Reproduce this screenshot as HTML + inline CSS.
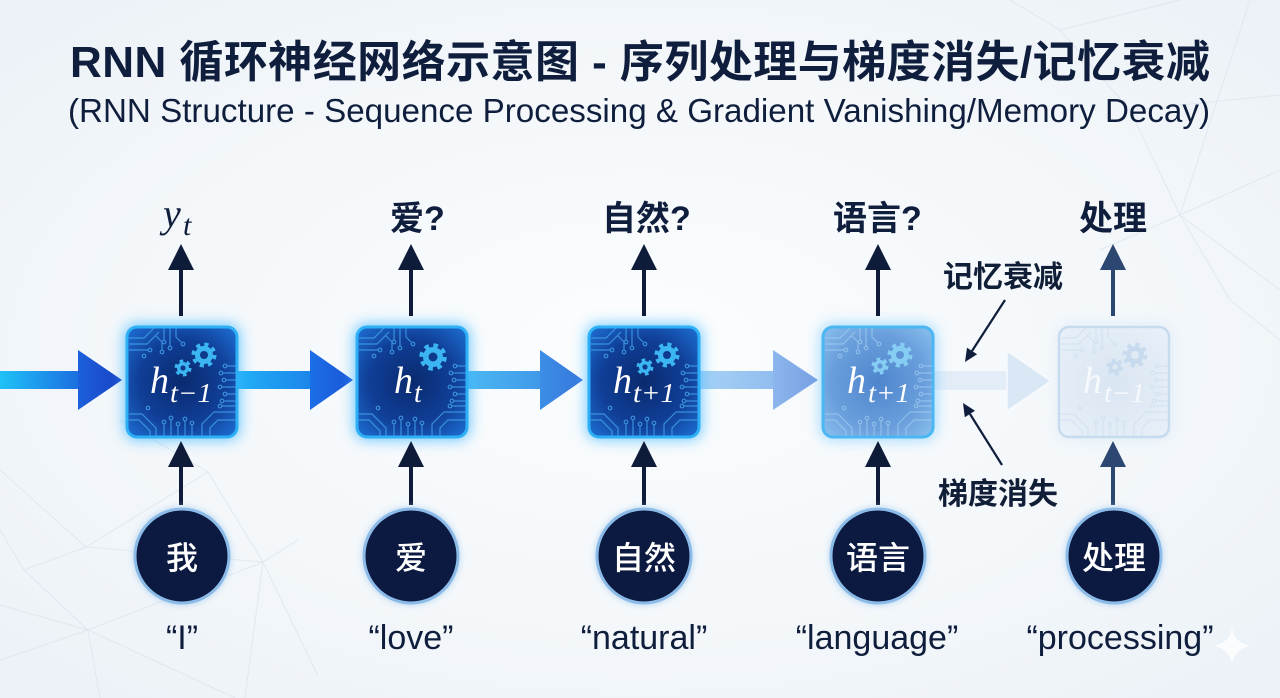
<!DOCTYPE html>
<html><head><meta charset="utf-8"><style>
html,body{margin:0;padding:0;width:1280px;height:698px;overflow:hidden;background:#f2f6fa;}
svg{display:block;}
</style></head><body>
<svg width="1280" height="698" viewBox="0 0 1280 698" xmlns="http://www.w3.org/2000/svg">
<defs>
  <radialGradient id="bgG" cx="0.5" cy="0.5" r="0.7">
    <stop offset="0" stop-color="#fbfdfe"/><stop offset="0.6" stop-color="#f3f7fa"/><stop offset="1" stop-color="#ebf1f7"/>
  </radialGradient>
  <radialGradient id="g1" cx="0.5" cy="0.5" r="0.72">
    <stop offset="0" stop-color="#0a2a6e"/><stop offset="0.55" stop-color="#103f98"/><stop offset="1" stop-color="#1f74da"/>
  </radialGradient>
  <radialGradient id="g4" cx="0.5" cy="0.5" r="0.72">
    <stop offset="0" stop-color="#4f85cd"/><stop offset="0.6" stop-color="#6a9fdc"/><stop offset="1" stop-color="#8ec3f0"/>
  </radialGradient>
  <radialGradient id="g5" cx="0.5" cy="0.5" r="0.72">
    <stop offset="0" stop-color="#d9e5f2"/><stop offset="1" stop-color="#e9f1f9"/>
  </radialGradient>
  <filter id="blur" x="-50%" y="-50%" width="200%" height="200%"><feGaussianBlur stdDeviation="7"/></filter>
  <filter id="blur2" x="-50%" y="-50%" width="200%" height="200%"><feGaussianBlur stdDeviation="3"/></filter>

  <linearGradient id="a0s" gradientUnits="userSpaceOnUse" x1="0" y1="0" x2="80" y2="0"><stop offset="0" stop-color="#1fc2f8"/><stop offset="1" stop-color="#1b6ddf"/></linearGradient>
  <linearGradient id="a0h" gradientUnits="userSpaceOnUse" x1="78" y1="0" x2="122" y2="0"><stop offset="0" stop-color="#1d60dc"/><stop offset="1" stop-color="#1943c6"/></linearGradient>
  <linearGradient id="a1s" gradientUnits="userSpaceOnUse" x1="238" y1="0" x2="312" y2="0"><stop offset="0" stop-color="#21b0f6"/><stop offset="1" stop-color="#1d84ea"/></linearGradient>
  <linearGradient id="a1h" gradientUnits="userSpaceOnUse" x1="310" y1="0" x2="353" y2="0"><stop offset="0" stop-color="#1c6fe6"/><stop offset="1" stop-color="#1a55d8"/></linearGradient>
  <linearGradient id="a2s" gradientUnits="userSpaceOnUse" x1="468" y1="0" x2="542" y2="0"><stop offset="0" stop-color="#4cb8f3"/><stop offset="1" stop-color="#3f98e8"/></linearGradient>
  <linearGradient id="a2h" gradientUnits="userSpaceOnUse" x1="540" y1="0" x2="583" y2="0"><stop offset="0" stop-color="#3d8ee6"/><stop offset="1" stop-color="#3676dc"/></linearGradient>
  <linearGradient id="a3s" gradientUnits="userSpaceOnUse" x1="701" y1="0" x2="775" y2="0"><stop offset="0" stop-color="#a6d2f5"/><stop offset="1" stop-color="#90bdef"/></linearGradient>
  <linearGradient id="a3h" gradientUnits="userSpaceOnUse" x1="773" y1="0" x2="818" y2="0"><stop offset="0" stop-color="#8cb6ec"/><stop offset="1" stop-color="#789fe2"/></linearGradient>

  <g id="circ" fill="none" stroke="currentColor" stroke-width="1.2">
    <path d="M3 12 H18 L28 2 M3 18 H21 L33 6 M3 24 H22 M38 2 V14 M44 2 V20 M50 2 V11 L55 16 M30 10 L36 16 V24"/>
    <circle cx="24" cy="24" r="1.8"/><circle cx="38" cy="16" r="1.8"/><circle cx="44" cy="22" r="1.8"/><circle cx="57" cy="18" r="1.8"/><circle cx="36" cy="26" r="1.8"/><circle cx="18" cy="30" r="1.8"/>
    <path d="M110 40 H101 M110 47 H97 M110 54 H100 M110 61 H96 M110 68 H101 M110 75 H98"/>
    <circle cx="99" cy="40" r="1.8"/><circle cx="95" cy="47" r="1.8"/><circle cx="98" cy="54" r="1.8"/><circle cx="94" cy="61" r="1.8"/><circle cx="99" cy="68" r="1.8"/><circle cx="96" cy="75" r="1.8"/>
    <path d="M38 110 V98 M45 110 V94 M52 110 V100 M59 110 V95 M66 110 V99 M3 88 H16 L30 102 V110 M3 94 H13 L24 105 V110 M110 86 H88 L76 98 V110 M110 94 H92 L84 102 V110 M110 80 H96"/>
    <circle cx="38" cy="96" r="1.8"/><circle cx="45" cy="92" r="1.8"/><circle cx="52" cy="98" r="1.8"/><circle cx="59" cy="93" r="1.8"/><circle cx="66" cy="97" r="1.8"/><circle cx="22" cy="82" r="1.8"/><circle cx="94" cy="80" r="1.8"/>
  </g>
</defs>

<!-- background -->
<rect width="1280" height="698" fill="url(#bgG)"/>
<g stroke="#dbe3ec" stroke-width="1" fill="none" opacity="0.75">
  <path d="M86 547 L208 472 M86 547 L24 570 M86 547 L263 562 M24 570 L88 630 M88 630 L263 562 M88 630 L0 605 M88 630 L100 698 M88 630 L235 698 M263 562 L318 676 M263 562 L245 698 M24 570 L0 530 M86 547 L0 470 M208 472 L120 420 M263 562 L298 540 M208 472 L263 562 M0 660 L88 630"/>
  <path d="M1100 250 L1180 215 L1280 170 M1180 215 L1280 290 M1180 215 L1130 110 M1130 110 L1280 95 M1130 110 L1060 30 M1180 215 L1250 0 M1060 30 L1180 0 M1230 300 L1280 340 M1180 215 L1230 300 M1010 0 L1060 30"/>
</g>

<!-- title -->
<text x="70" y="77" font-family="'Liberation Sans','Noto Sans CJK SC',sans-serif" font-size="44" font-weight="700" fill="#0f1e3c" textLength="1140" lengthAdjust="spacing">RNN 循环神经网络示意图 - 序列处理与梯度消失/记忆衰减</text>
<text x="68" y="122" font-family="'Liberation Sans','Noto Sans CJK SC',sans-serif" font-size="33" fill="#0f1e3c" textLength="1142" lengthAdjust="spacingAndGlyphs">(RNN Structure - Sequence Processing &amp; Gradient Vanishing/Memory Decay)</text>

<!-- horizontal arrows -->
<rect x="0" y="371" width="80" height="18" fill="url(#a0s)"/>
<polygon points="78,350 122,380 78,410" fill="url(#a0h)"/>
<rect x="236" y="371" width="76" height="18" fill="url(#a1s)"/>
<polygon points="310,350 353,380 310,410" fill="url(#a1h)"/>
<rect x="466" y="371" width="76" height="18" fill="url(#a2s)"/>
<polygon points="540,350 583,380 540,410" fill="url(#a2h)"/>
<rect x="699" y="371" width="76" height="18" fill="url(#a3s)"/>
<polygon points="773,350 818,380 773,410" fill="url(#a3h)"/>
<rect x="933" y="371" width="76" height="19" fill="#e3edf7"/>
<polygon points="1007,351 1051,381 1007,411" fill="#dae7f4" stroke="#f7fafd" stroke-width="1.5"/>

<!-- box glows -->
<rect x="124" y="324" width="116" height="116" rx="12" fill="#3cb6ff" opacity="0.75" filter="url(#blur)"/>
<rect x="354" y="324" width="116" height="116" rx="12" fill="#3cb6ff" opacity="0.75" filter="url(#blur)"/>
<rect x="586" y="324" width="116" height="116" rx="12" fill="#3cb6ff" opacity="0.7" filter="url(#blur)"/>
<rect x="820" y="324" width="116" height="116" rx="12" fill="#5cc0ff" opacity="0.55" filter="url(#blur)"/>
<rect x="1056" y="324" width="116" height="116" rx="12" fill="#cfe3f5" opacity="0.5" filter="url(#blur)"/>

<!-- box 1 -->
<rect x="127" y="327" width="110" height="110" rx="10" fill="url(#g1)" stroke="#2db0f5" stroke-width="3"/>
<use href="#circ" x="126" y="326" style="color:#43a2ea" opacity="0.8"/>
<g fill="#3cb6f2">
  <circle cx="204" cy="355" r="9"/><circle cx="204" cy="355" r="10.5" fill="none" stroke="#3cb6f2" stroke-width="4" stroke-dasharray="4.12 4.12"/>
  <circle cx="183" cy="368" r="6"/><circle cx="183" cy="368" r="7" fill="none" stroke="#3cb6f2" stroke-width="3" stroke-dasharray="3.67 3.67"/>
</g>
<circle cx="204" cy="355" r="4" fill="#0f3a8c"/><circle cx="183" cy="368" r="2.6" fill="#0f3a8c"/>
<text font-family="'Liberation Serif',serif" font-style="italic" fill="#ffffff"><tspan x="150" y="393" font-size="38">h</tspan><tspan x="170" y="402" font-size="27" textLength="42" lengthAdjust="spacingAndGlyphs">t−1</tspan></text>

<!-- box 2 -->
<rect x="357" y="327" width="110" height="110" rx="10" fill="url(#g1)" stroke="#2db0f5" stroke-width="3"/>
<use href="#circ" x="356" y="326" style="color:#43a2ea" opacity="0.8"/>
<circle cx="433" cy="357" r="10" fill="#3cb6f2"/><circle cx="433" cy="357" r="11.5" fill="none" stroke="#3cb6f2" stroke-width="4.5" stroke-dasharray="4.52 4.52"/>
<circle cx="433" cy="357" r="4.5" fill="#0f3a8c"/>
<text font-family="'Liberation Serif',serif" font-style="italic" fill="#ffffff"><tspan x="394" y="393" font-size="38">h</tspan><tspan x="414" y="402" font-size="28">t</tspan></text>

<!-- box 3 -->
<rect x="589" y="327" width="110" height="110" rx="10" fill="url(#g1)" stroke="#2db0f5" stroke-width="3"/>
<use href="#circ" x="588" y="326" style="color:#43a2ea" opacity="0.8"/>
<g fill="#3cb6f2">
  <circle cx="667" cy="355" r="9"/><circle cx="667" cy="355" r="10.5" fill="none" stroke="#3cb6f2" stroke-width="4" stroke-dasharray="4.12 4.12"/>
  <circle cx="645" cy="367" r="6"/><circle cx="645" cy="367" r="7" fill="none" stroke="#3cb6f2" stroke-width="3" stroke-dasharray="3.67 3.67"/>
</g>
<circle cx="667" cy="355" r="4" fill="#0f3a8c"/><circle cx="645" cy="367" r="2.6" fill="#0f3a8c"/>
<text font-family="'Liberation Serif',serif" font-style="italic" fill="#ffffff"><tspan x="613" y="393" font-size="38">h</tspan><tspan x="633" y="402" font-size="27" textLength="42" lengthAdjust="spacingAndGlyphs">t+1</tspan></text>

<!-- box 4 (fading) -->
<rect x="823" y="327" width="110" height="110" rx="10" fill="url(#g4)" stroke="#4ab7f3" stroke-width="3"/>
<use href="#circ" x="822" y="326" style="color:#a9d3f4" opacity="0.6"/>
<g fill="#86cdf4">
  <circle cx="900" cy="355" r="9"/><circle cx="900" cy="355" r="10.5" fill="none" stroke="#86cdf4" stroke-width="4" stroke-dasharray="4.12 4.12"/>
  <circle cx="880" cy="366" r="6"/><circle cx="880" cy="366" r="7" fill="none" stroke="#86cdf4" stroke-width="3" stroke-dasharray="3.67 3.67"/>
</g>
<circle cx="900" cy="355" r="4" fill="#5f95d6"/><circle cx="880" cy="366" r="2.6" fill="#5f95d6"/>
<text font-family="'Liberation Serif',serif" font-style="italic" fill="#ffffff"><tspan x="847" y="393" font-size="38">h</tspan><tspan x="868" y="402" font-size="27" textLength="42" lengthAdjust="spacingAndGlyphs">t+1</tspan></text>

<!-- box 5 (faded) -->
<rect x="1059" y="327" width="110" height="110" rx="10" fill="url(#g5)" stroke="#c7dbee" stroke-width="2.5"/>
<use href="#circ" x="1058" y="326" style="color:#cddff0" opacity="0.7"/>
<g fill="#c8dbee">
  <circle cx="1135" cy="355" r="9"/><circle cx="1135" cy="355" r="10.5" fill="none" stroke="#c8dbee" stroke-width="4" stroke-dasharray="4.12 4.12"/>
  <circle cx="1115" cy="367" r="6"/><circle cx="1115" cy="367" r="7" fill="none" stroke="#c8dbee" stroke-width="3" stroke-dasharray="3.67 3.67"/>
</g>
<circle cx="1135" cy="355" r="4" fill="#e0eaf5"/><circle cx="1115" cy="367" r="2.6" fill="#e0eaf5"/>
<text font-family="'Liberation Serif',serif" font-style="italic" fill="#f7fafd"><tspan x="1083" y="393" font-size="38">h</tspan><tspan x="1104" y="402" font-size="27" textLength="41" lengthAdjust="spacingAndGlyphs">t−1</tspan></text>

<!-- vertical arrows -->
<g stroke="#0e1c3a" stroke-width="4">
  <line x1="181" y1="316" x2="181" y2="266"/><line x1="411" y1="316" x2="411" y2="266"/><line x1="644" y1="316" x2="644" y2="266"/><line x1="878" y1="316" x2="878" y2="266"/>
  <line x1="181" y1="505" x2="181" y2="462"/><line x1="411" y1="505" x2="411" y2="462"/><line x1="644" y1="505" x2="644" y2="462"/><line x1="878" y1="505" x2="878" y2="462"/>
</g>
<g fill="#0e1c3a">
  <polygon points="168,270 181,244 194,270"/><polygon points="398,270 411,244 424,270"/><polygon points="631,270 644,244 657,270"/><polygon points="865,270 878,244 891,270"/>
  <polygon points="168,467 181,441 194,467"/><polygon points="398,467 411,441 424,467"/><polygon points="631,467 644,441 657,467"/><polygon points="865,467 878,441 891,467"/>
</g>
<g stroke="#2c4872" stroke-width="4"><line x1="1113" y1="316" x2="1113" y2="266"/><line x1="1113" y1="505" x2="1113" y2="462"/></g>
<g fill="#2c4872"><polygon points="1100,270 1113,244 1126,270"/><polygon points="1100,467 1113,441 1126,467"/></g>

<!-- output labels -->
<text font-family="'Liberation Serif',serif" font-style="italic" fill="#0f1e3c"><tspan x="163" y="227" font-size="40">y</tspan><tspan x="183" y="235" font-size="30">t</tspan></text>
<g font-family="'Liberation Sans','Noto Sans CJK SC',sans-serif" font-size="34" font-weight="700" fill="#0f1e3c">
  <text x="390" y="230">爱?</text>
  <text x="602" y="230">自然?</text>
  <text x="833" y="230">语言?</text>
  <text x="1079" y="230">处理</text>
</g>

<!-- annotations -->
<g font-family="'Liberation Sans','Noto Sans CJK SC',sans-serif" font-size="30" font-weight="700" fill="#111e38" text-anchor="middle">
  <text x="1003" y="287">记忆衰减</text>
  <text x="998" y="504">梯度消失</text>
</g>
<g stroke="#0f1e3c" stroke-width="2.2">
  <line x1="1005" y1="300" x2="972" y2="351"/>
  <line x1="1002" y1="465" x2="970" y2="414"/>
</g>
<g fill="#0f1e3c">
  <polygon points="965,362 977.1,354.3 967,347.8"/>
  <polygon points="963,403 975,410.8 964.8,417.2"/>
</g>

<!-- input circles -->
<g filter="url(#blur2)" opacity="0.5" fill="#9cc8f0">
  <circle cx="182" cy="556" r="50"/><circle cx="411" cy="556" r="50"/><circle cx="644" cy="556" r="50"/><circle cx="878" cy="556" r="50"/><circle cx="1114" cy="556" r="50"/>
</g>
<g fill="#0c1a42" stroke="#8dbbe8" stroke-width="3">
  <circle cx="182" cy="556" r="47"/><circle cx="411" cy="556" r="47"/><circle cx="644" cy="556" r="47"/><circle cx="878" cy="556" r="47"/><circle cx="1114" cy="556" r="47"/>
</g>
<g font-family="'Liberation Sans','Noto Sans CJK SC',sans-serif" font-size="32" fill="#ffffff" text-anchor="middle" font-weight="500">
  <text x="182" y="569">我</text>
  <text x="411" y="569">爱</text>
  <text x="644" y="569">自然</text>
  <text x="878" y="569">语言</text>
  <text x="1114" y="569">处理</text>
</g>

<!-- bottom labels -->
<g font-family="'Liberation Sans',sans-serif" font-size="34" fill="#0f1e3c" text-anchor="middle">
  <text x="182" y="649">“I”</text>
  <text x="411" y="649">“love”</text>
  <text x="644" y="649">“natural”</text>
  <text x="877" y="649">“language”</text>
  <text x="1120" y="649">“processing”</text>
</g>

<!-- sparkle -->
<path d="M1232 628 Q1235 643 1250 646 Q1235 649 1232 664 Q1229 649 1214 646 Q1229 643 1232 628 Z" fill="#ffffff" opacity="0.75"/>
</svg>
</body></html>
